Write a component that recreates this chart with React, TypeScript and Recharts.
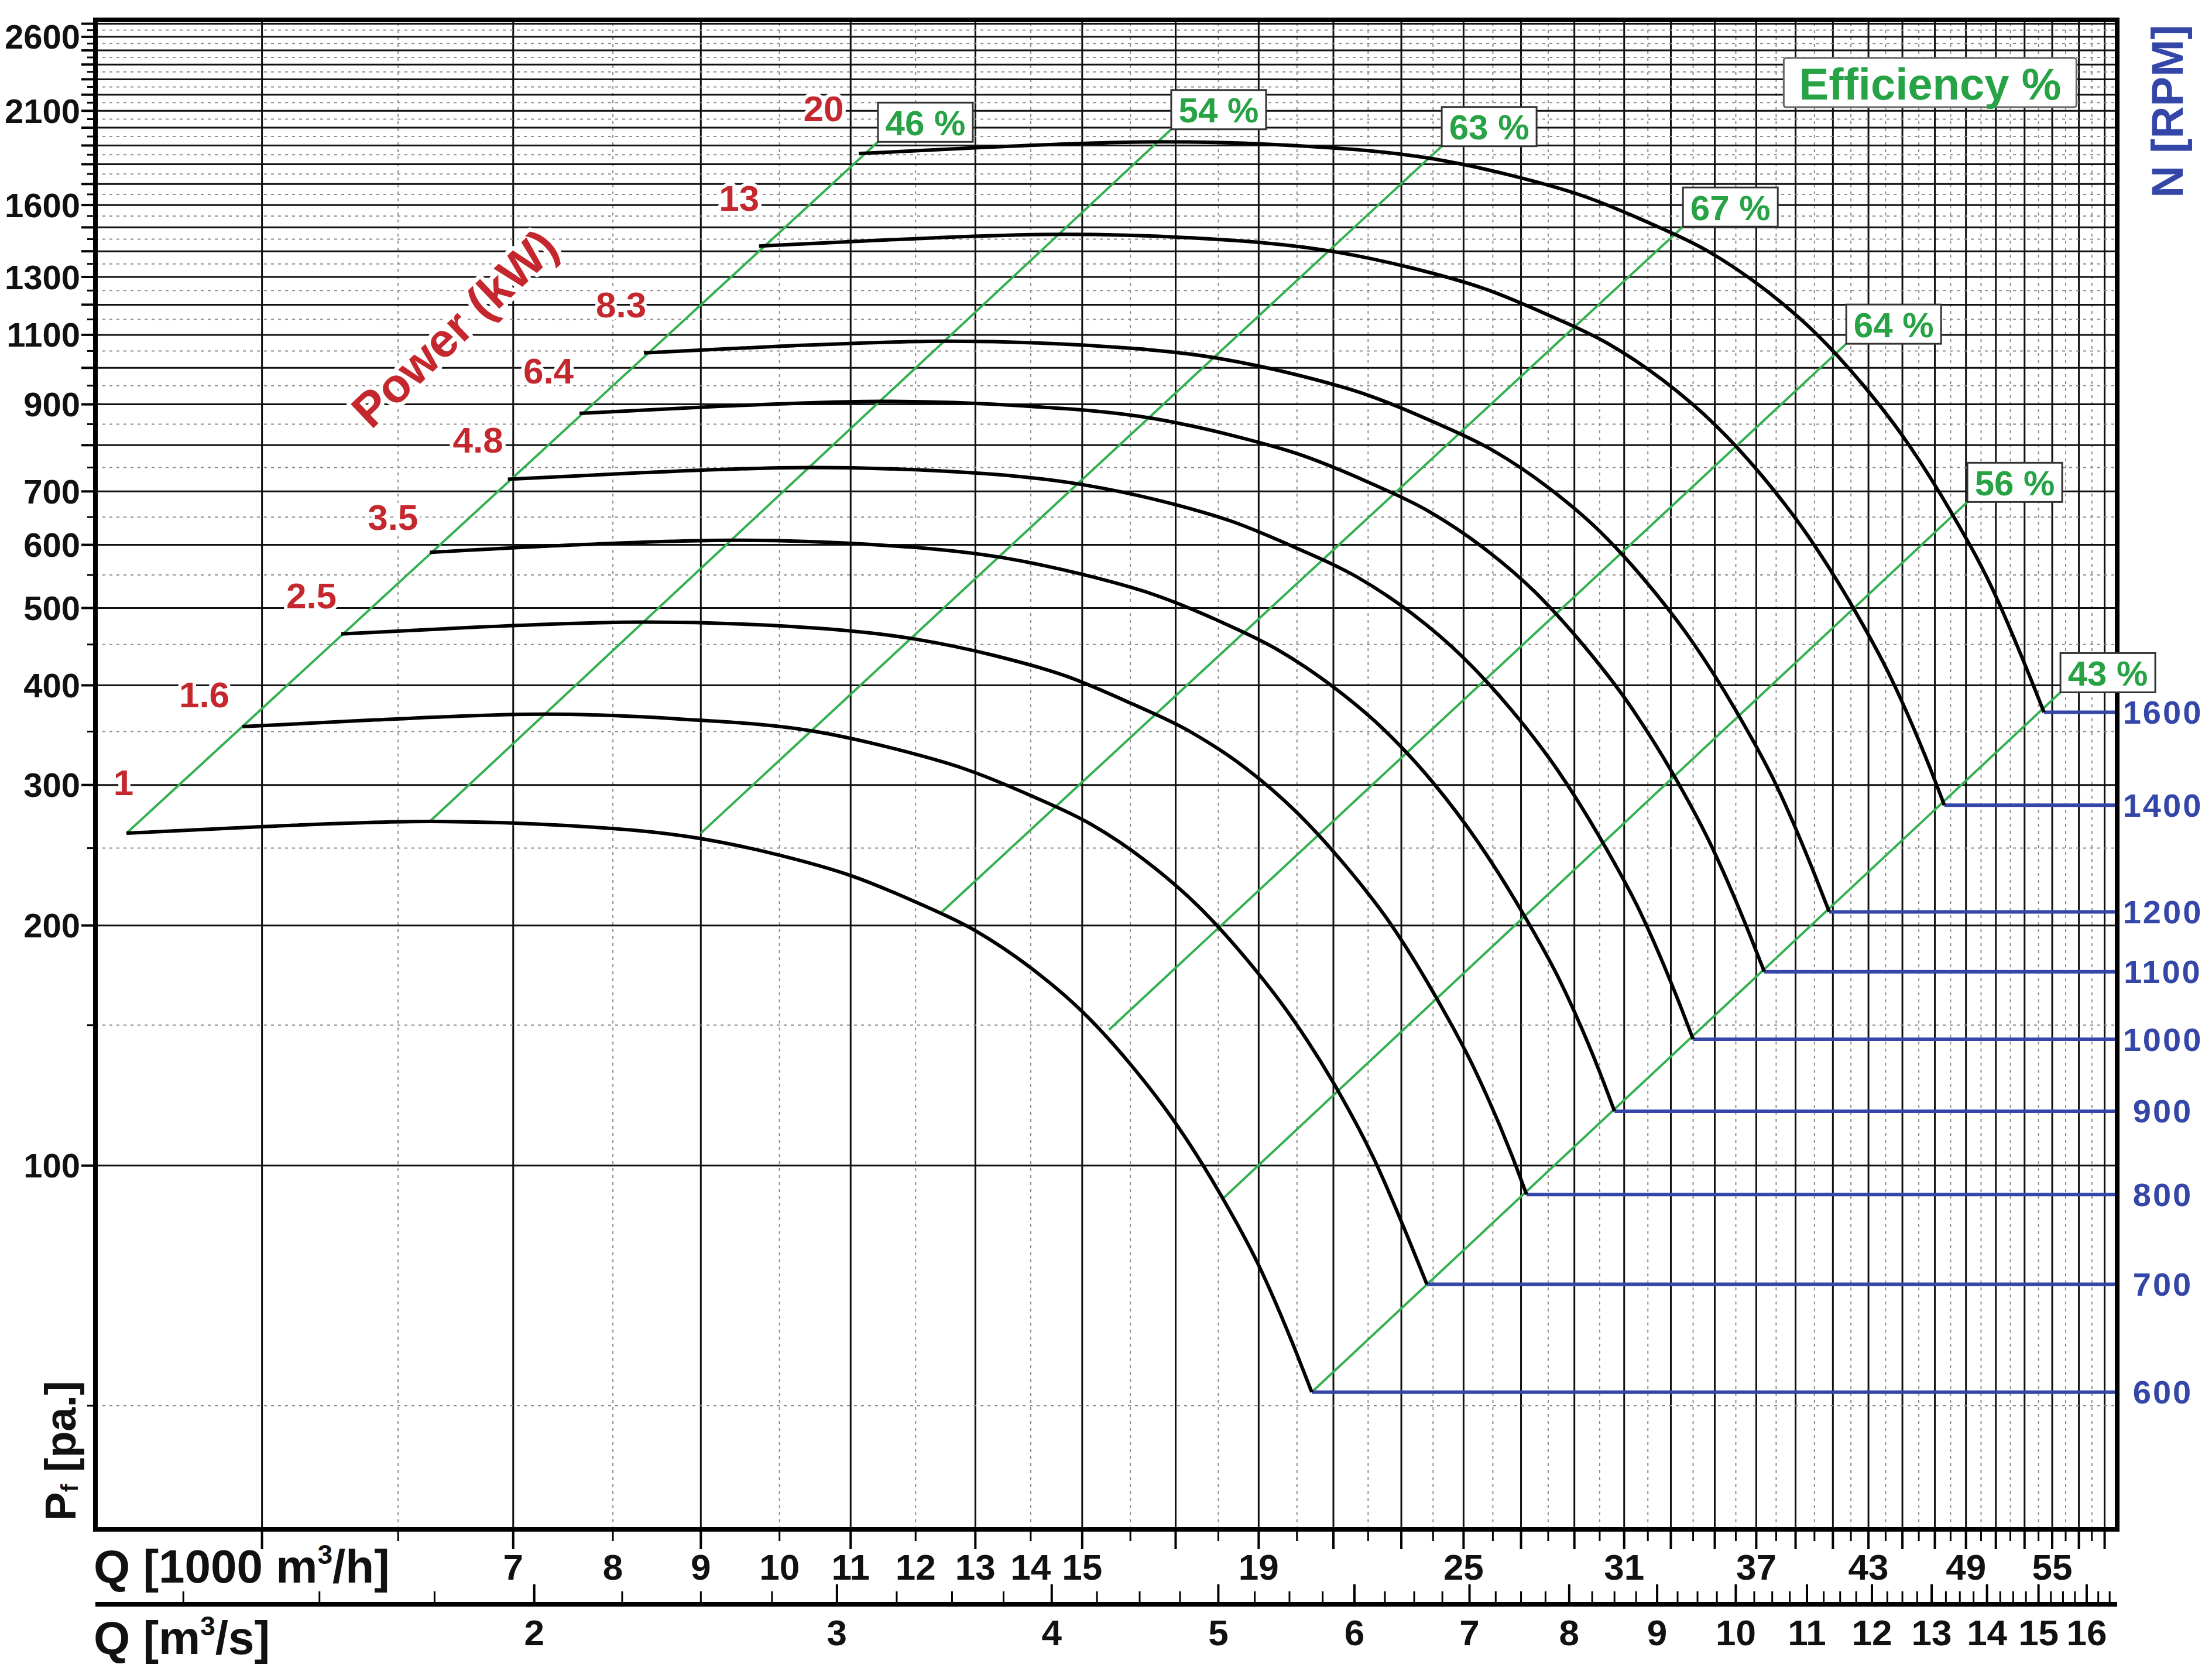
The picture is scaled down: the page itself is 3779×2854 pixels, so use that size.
import React from 'react';
import { ComposedChart, Line, XAxis, YAxis, ReferenceLine, ReferenceDot, Label } from 'recharts';

const FONT = '"Liberation Sans", Arial, Helvetica, sans-serif';
const GREEN = '#33b04f';
const GREEN_TEXT = '#27a245';
const RED = '#c4282e';
const BLUE = '#3447a8';

// fan speed [RPM] and shaft power [kW] for each curve
const RPM = [600, 700, 800, 900, 1000, 1100, 1200, 1400, 1600];
const POWER_KW = ['1', '1.6', '2.5', '3.5', '4.8', '6.4', '8.3', '13', '20'];

// Q [1000 m3/h] and Pf [Pa] along each speed curve
const Q600 = [4.17, 4.99, 6.26, 7.49, 9, 10, 11, 12, 13, 14, 15, 16, 17, 18, 19, 20, 20.4];
const P600 = [261, 266, 270, 267, 257, 245, 231, 214, 197, 177, 156, 134, 113, 93, 75, 58, 52];
const Q700 = [4.87, 5.82, 7.3, 8.74, 10.5, 11.67, 12.83, 14.0, 15.17, 16.33, 17.5, 18.67, 19.83, 21.0, 22.17, 23.33, 23.8];
const P700 = [355, 362, 368, 363, 350, 333, 314, 291, 268, 241, 212, 182, 154, 127, 102, 79, 71];
const Q800 = [5.56, 6.65, 8.35, 9.99, 12.0, 13.33, 14.67, 16.0, 17.33, 18.67, 20.0, 21.33, 22.67, 24.0, 25.33, 26.67, 27.2];
const P800 = [464, 473, 480, 475, 457, 436, 411, 380, 350, 315, 277, 238, 201, 165, 133, 103, 92];
const Q900 = [6.26, 7.49, 9.39, 11.24, 13.5, 15.0, 16.5, 18.0, 19.5, 21.0, 22.5, 24.0, 25.5, 27.0, 28.5, 30.0, 30.6];
const P900 = [587, 599, 608, 601, 578, 551, 520, 482, 443, 398, 351, 302, 254, 209, 169, 131, 117];
const Q1000 = [6.95, 8.32, 10.43, 12.48, 15.0, 16.67, 18.33, 20.0, 21.67, 23.33, 25.0, 26.67, 28.33, 30.0, 31.67, 33.33, 34.0];
const P1000 = [725, 739, 750, 742, 714, 681, 642, 594, 547, 492, 433, 372, 314, 258, 208, 161, 144];
const Q1100 = [7.65, 9.15, 11.48, 13.73, 16.5, 18.33, 20.17, 22.0, 23.83, 25.67, 27.5, 29.33, 31.17, 33.0, 34.83, 36.67, 37.4];
const P1100 = [877, 894, 908, 897, 864, 823, 776, 719, 662, 595, 524, 450, 380, 313, 252, 195, 175];
const Q1200 = [8.34, 9.98, 12.52, 14.98, 18, 20, 22, 24, 26, 28, 30, 32, 34, 36, 38, 40, 40.8];
const P1200 = [1044, 1064, 1080, 1068, 1028, 980, 924, 856, 788, 708, 624, 536, 452, 372, 300, 232, 208];
const Q1400 = [9.73, 11.64, 14.61, 17.48, 21.0, 23.33, 25.67, 28.0, 30.33, 32.67, 35.0, 37.33, 39.67, 42.0, 44.33, 46.67, 47.6];
const P1400 = [1421, 1448, 1470, 1454, 1399, 1334, 1258, 1165, 1073, 964, 849, 730, 615, 506, 408, 316, 283];
const Q1600 = [11.12, 13.31, 16.69, 19.97, 24.0, 26.67, 29.33, 32.0, 34.67, 37.33, 40.0, 42.67, 45.33, 48.0, 50.67, 53.33, 54.4];
const P1600 = [1856, 1892, 1920, 1899, 1828, 1742, 1643, 1522, 1401, 1259, 1109, 953, 804, 661, 533, 412, 370];

// efficiency lines (start on the 600 rpm curve, end at their label)
const EFF_LABELS = ['46 %', '54 %', '63 %', '67 %', '64 %', '56 %', '43 %'];
const EFF_Q = [[4.17, 11.41], [6.26, 16.9], [9.0, 24.28], [12.43, 33.54], [15.55, 41.74], [18.12, 49.09], [20.4, 55.61]];
const EFF_P = [[261, 1920], [270, 1991], [261, 1896], [208, 1503], [148, 1072], [91, 679], [52, 392]];

// axis labels
const P_LABELS = [100, 200, 300, 400, 500, 600, 700, 900, 1100, 1300, 1600, 2100, 2600];
const QH_LABELS = [7, 8, 9, 10, 11, 12, 13, 14, 15, 19, 25, 31, 37, 43, 49, 55];
const QS_LABELS = [2, 3, 4, 5, 6, 7, 8, 9, 10, 11, 12, 13, 14, 15, 16];

const P_GRID = Array.from({ length: 54 }, (_, i) => (i + 1) * 50);
const Q_GRID = Array.from({ length: 55 }, (_, i) => i + 5);
const QS_TICKS = Array.from({ length: 62 }, (_, i) => 1.25 + i * 0.25);

const Q_MIN = 4;
const Q_MAX = 60;
const P_MIN = 35;
const P_MAX = 2730;

const curveQ = [Q600, Q700, Q800, Q900, Q1000, Q1100, Q1200, Q1400, Q1600];
const curveP = [P600, P700, P800, P900, P1000, P1100, P1200, P1400, P1600];
const curves = RPM.map((rpm, i) => ({
  rpm,
  data: curveQ[i].map((q, j) => ({ q, p: curveP[i][j] })),
}));
const effLines = EFF_LABELS.map((name, i) => ({
  name,
  data: EFF_Q[i].map((q, j) => ({ q, p: EFF_P[i][j] })),
}));
const rpmEndP = curves.map((c) => c.data[c.data.length - 1].p);
// same 600 rpm curve in m3/s, only so the m3/s axis gets a scale
const curveInM3s = curves[0].data.map((d) => ({ qs: d.q / 3.6, p: d.p }));

// where the power numbers sit relative to the start of each curve
const POWER_OFFSET = [[-5, -87], [-65, -55], [-51, -65], [-63, -60], [-51, -67], [-53, -72], [-39, -82], [-34, -82], [-60, -77]];

const bold = { fontFamily: FONT, fontWeight: 700 } as const;

const PTick = (props: any) => {
  const { x, y, payload } = props;
  const v = payload.value;
  const major = v % 100 === 0;
  return (
    <g>
      <line x1={x - (major ? 24 : 14)} x2={x} y1={y} y2={y} stroke="#000" strokeWidth={major ? 4 : 3} />
      {P_LABELS.includes(v) && (
        <text x={x - 26} y={y} textAnchor="end" dominantBaseline="central" fontSize={58} fill="#111" {...bold}>
          {v}
        </text>
      )}
    </g>
  );
};

const QhTick = (props: any) => {
  const { x, y, payload } = props;
  const v = payload.value;
  const odd = v % 2 === 1;
  return (
    <g>
      <line x1={x} x2={x} y1={y} y2={y + (odd ? 34 : 20)} stroke="#000" strokeWidth={odd ? 4 : 3} />
      {QH_LABELS.includes(v) && (
        <text x={x} y={y + 86} textAnchor="middle" fontSize={62} fill="#111" {...bold}>
          {v}
        </text>
      )}
    </g>
  );
};

const QsTick = (props: any) => {
  const { x, y, payload } = props;
  const v = payload.value;
  const major = Number.isInteger(v);
  return (
    <g>
      <line x1={x} x2={x} y1={y} y2={y - (major ? 34 : 22)} stroke="#000" strokeWidth={major ? 4 : 3} />
      {QS_LABELS.includes(v) && (
        <text x={x} y={y + 70} textAnchor="middle" fontSize={62} fill="#111" {...bold}>
          {v}
        </text>
      )}
    </g>
  );
};

const RpmTick = (props: any) => {
  const { x, y, payload } = props;
  const i = rpmEndP.indexOf(payload.value);
  return (
    <text x={x + 78} y={y} textAnchor="middle" dominantBaseline="central" fontSize={56} letterSpacing={3} fill={BLUE} {...bold}>
      {RPM[i]}
    </text>
  );
};

const PTitle = () => (
  <text transform="translate(103,2478) rotate(-90)" textAnchor="middle" dominantBaseline="central" fontSize={74} fill="#111" {...bold}>
    P<tspan fontSize={40} dy={16}>f</tspan>
    <tspan dy={-16}> [pa.]</tspan>
  </text>
);

const RpmTitle = () => (
  <text transform="translate(3702,190) rotate(-90)" textAnchor="middle" dominantBaseline="central" fontSize={76} fill={BLUE} {...bold}>
    N [RPM]
  </text>
);

const QhTitle = () => (
  <text x={160} y={2703} fontSize={80} fill="#111" {...bold}>
    Q [1000 m<tspan fontSize={46} dy={-32}>3</tspan>
    <tspan dy={32}>/h]</tspan>
  </text>
);

const QsTitle = () => (
  <text x={160} y={2825} fontSize={80} fill="#111" {...bold}>
    Q [m<tspan fontSize={46} dy={-32}>3</tspan>
    <tspan dy={32}>/s]</tspan>
  </text>
);

const App = () => {
  return (
    <div style={{ position: 'absolute', left: 0, top: 0, width: 3779, height: 2854, background: '#fff' }}>
      <ComposedChart width={3779} height={2854} margin={{ top: 34, right: 0, bottom: 14, left: 0 }}>
        <XAxis
          dataKey="q"
          type="number"
          scale="log"
          domain={[Q_MIN, Q_MAX]}
          ticks={Q_GRID}
          interval={0}
          height={128}
          tickSize={0}
          tickMargin={0}
          tickLine={false}
          tick={QhTick}
          axisLine={{ stroke: '#000', strokeWidth: 8, strokeLinecap: 'square' }}
        >
          <Label content={QhTitle} />
        </XAxis>
        <XAxis
          xAxisId="s"
          dataKey="qs"
          type="number"
          scale="log"
          domain={[Q_MIN / 3.6, Q_MAX / 3.6]}
          ticks={QS_TICKS}
          interval={0}
          height={100}
          tickSize={0}
          tickMargin={0}
          tickLine={false}
          tick={QsTick}
          axisLine={{ stroke: '#000', strokeWidth: 8 }}
        >
          <Label content={QsTitle} />
        </XAxis>
        <YAxis
          type="number"
          scale="log"
          domain={[P_MIN, P_MAX]}
          ticks={P_GRID}
          interval={0}
          width={163}
          tickSize={0}
          tickMargin={0}
          tickLine={false}
          tick={PTick}
          axisLine={{ stroke: '#000', strokeWidth: 8, strokeLinecap: 'square' }}
        >
          <Label content={PTitle} />
        </YAxis>
        <YAxis
          yAxisId="r"
          orientation="right"
          type="number"
          scale="log"
          domain={[P_MIN, P_MAX]}
          ticks={rpmEndP}
          interval={0}
          width={162}
          tickSize={0}
          tickMargin={0}
          tickLine={false}
          tick={RpmTick}
          axisLine={{ stroke: '#000', strokeWidth: 8, strokeLinecap: 'square' }}
        >
          <Label content={RpmTitle} />
        </YAxis>

        {Q_GRID.map((v) => (
          <ReferenceLine
            key={`vx${v}`}
            x={v}
            stroke={v % 2 === 1 ? '#111' : '#8c8c8c'}
            strokeWidth={v % 2 === 1 ? 3 : 2}
            strokeDasharray={v % 2 === 1 ? undefined : '5 7'}
          />
        ))}
        {P_GRID.map((v) => (
          <ReferenceLine
            key={`hy${v}`}
            y={v}
            stroke={v % 100 === 0 ? '#111' : '#8c8c8c'}
            strokeWidth={v % 100 === 0 ? 3 : 2}
            strokeDasharray={v % 100 === 0 ? undefined : '5 7'}
          />
        ))}
        <ReferenceLine y={P_MAX} stroke="#000" strokeWidth={8} />

        <Line
          xAxisId="s"
          data={curveInM3s}
          dataKey="p"
          stroke="none"
          strokeWidth={0}
          dot={false}
          activeDot={false}
          legendType="none"
          isAnimationActive={false}
        />

        {effLines.map((e, i) => (
          <Line
            key={e.name}
            data={e.data}
            dataKey="p"
            type="linear"
            stroke={GREEN}
            strokeWidth={4}
            dot={false}
            activeDot={false}
            legendType="none"
            isAnimationActive={false}
            label={(lp: any) =>
              lp.index === 1 ? (
                <g>
                  <rect x={lp.x} y={lp.y - 67} width={162} height={67} fill="#fff" stroke="#333" strokeWidth={3} />
                  <text x={lp.x + 81} y={lp.y - 32} textAnchor="middle" dominantBaseline="central" fontSize={60} fill={GREEN_TEXT} {...bold}>
                    {EFF_LABELS[i]}
                  </text>
                </g>
              ) : (
                <g />
              )
            }
          />
        ))}

        {curves.map((c) => (
          <Line
            key={`end${c.rpm}`}
            yAxisId="r"
            data={[c.data[c.data.length - 1], { q: Q_MAX, p: c.data[c.data.length - 1].p }]}
            dataKey="p"
            type="linear"
            stroke={BLUE}
            strokeWidth={6}
            dot={false}
            activeDot={false}
            legendType="none"
            isAnimationActive={false}
          />
        ))}

        {curves.map((c, i) => (
          <Line
            key={`rpm${c.rpm}`}
            data={c.data}
            dataKey="p"
            type="monotone"
            stroke="#000"
            strokeWidth={6}
            dot={false}
            activeDot={false}
            legendType="none"
            isAnimationActive={false}
            label={(lp: any) =>
              lp.index === 0 ? (
                <text
                  x={lp.x + POWER_OFFSET[i][0]}
                  y={lp.y + POWER_OFFSET[i][1]}
                  textAnchor="middle"
                  dominantBaseline="central"
                  fontSize={62}
                  fill={RED}
                  stroke="#fff"
                  strokeWidth={12}
                  paintOrder="stroke"
                  strokeLinejoin="round"
                  {...bold}
                >
                  {POWER_KW[i]}
                </text>
              ) : (
                <g />
              )
            }
          />
        ))}

        <ReferenceDot
          x={6.47}
          y={1121}
          r={1}
          fill="none"
          stroke="none"
          label={(p: any) => {
            const vb = p.viewBox || {};
            const cx = (vb.x ?? 0) + (vb.width ?? 0) / 2;
            const cy = (vb.y ?? 0) + (vb.height ?? 0) / 2;
            return (
              <text
                transform={`translate(${cx},${cy}) rotate(-43.5)`}
                textAnchor="middle"
                dominantBaseline="central"
                fontSize={82}
                fill={RED}
                stroke="#fff"
                strokeWidth={14}
                paintOrder="stroke"
                strokeLinejoin="round"
                {...bold}
              >
                Power (kW)
              </text>
            );
          }}
        />
        <ReferenceDot
          x={46.7}
          y={2278}
          r={1}
          fill="none"
          stroke="none"
          label={(p: any) => {
            const vb = p.viewBox || {};
            const cx = (vb.x ?? 0) + (vb.width ?? 0) / 2;
            const cy = (vb.y ?? 0) + (vb.height ?? 0) / 2;
            return (
              <g>
                <rect x={cx - 250} y={cy - 42} width={500} height={84} fill="#fff" stroke="#666" strokeWidth={3} rx={4} />
                <text x={cx} y={cy + 2} textAnchor="middle" dominantBaseline="central" fontSize={76} fill={GREEN_TEXT} {...bold}>
                  Efficiency %
                </text>
              </g>
            );
          }}
        />
      </ComposedChart>
    </div>
  );
};

export default App;
